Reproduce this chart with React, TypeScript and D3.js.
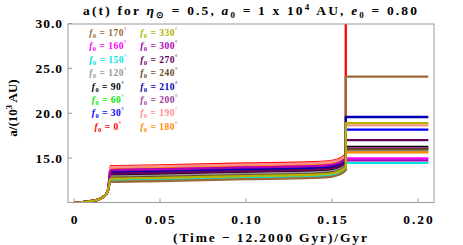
import * as d3 from "d3";
import React from "react";

// orbital angle f0 (deg) for each run, in drawing order
const f0Values = [0, 30, 60, 90, 120, 150, 160, 170, 180, 190, 200, 210, 240, 270, 300, 330];
const colors = [
  "#ff0000", "#0000ff", "#00ee00", "#000000", "#999999", "#00e5e5", "#ff00ff", "#9c6a38",
  "#ff8c00", "#ff9090", "#9a3aa0", "#0000b0", "#6a4a22", "#66005a", "#b000b0", "#b4b400",
];

// shared early evolution (all runs overlap here)
const earlyTimes = [0, 0.004, 0.008, 0.012, 0.015, 0.017, 0.019, 0.0200];
const earlyA = [10.05, 10.08, 10.15, 10.28, 10.45, 10.68, 11.05, 11.6];

// plateau before the big jump
const plateauTimes = [0.0212, 0.05, 0.10, 0.14, 0.150, 0.154, 0.156, 0.1578];
const plateauA = [
  [14.10, 14.20, 14.40, 14.55, 14.70, 14.90, 15.10, 15.35],
  [13.55, 13.65, 13.85, 14.00, 14.15, 14.35, 14.55, 14.80],
  [12.85, 12.95, 13.15, 13.30, 13.45, 13.65, 13.85, 14.10],
  [13.10, 13.20, 13.40, 13.55, 13.70, 13.90, 14.10, 14.35],
  [12.95, 13.05, 13.25, 13.40, 13.55, 13.75, 13.95, 14.20],
  [12.50, 12.60, 12.80, 12.95, 13.10, 13.30, 13.50, 13.75],
  [13.78, 13.88, 14.08, 14.23, 14.38, 14.58, 14.78, 15.03],
  [12.35, 12.45, 12.65, 12.80, 12.95, 13.15, 13.35, 13.60],
  [13.90, 14.00, 14.20, 14.35, 14.50, 14.70, 14.90, 15.15],
  [14.00, 14.10, 14.30, 14.45, 14.60, 14.80, 15.00, 15.25],
  [13.35, 13.45, 13.65, 13.80, 13.95, 14.15, 14.35, 14.60],
  [13.45, 13.55, 13.75, 13.90, 14.05, 14.25, 14.45, 14.70],
  [12.80, 12.90, 13.10, 13.25, 13.40, 13.60, 13.80, 14.05],
  [13.25, 13.35, 13.55, 13.70, 13.85, 14.05, 14.25, 14.50],
  [13.66, 13.76, 13.96, 14.11, 14.26, 14.46, 14.66, 14.91],
  [12.70, 12.80, 13.00, 13.15, 13.30, 13.50, 13.70, 13.95],
];

// after the jump
const jumpTime = 0.158;
const endTime = 0.206;
const finalA = [40, 18.17, 15.70, 16.24, 15.83, 14.46, 14.98, 24.09, 15.65, 18.65, 16.10, 19.58, 16.00, 17.00, 14.76, 18.90];

const xTicks = [0, 0.05, 0.1, 0.15, 0.2];
const xTickLabels = ["0", "0.05", "0.10", "0.15", "0.20"];
const yTicks = [15, 20, 25, 30];
const yTickLabels = ["15.0", "20.0", "25.0", "30.0"];

const W = 463;
const H = 245;
const frame = { left: 68, right: 434, top: 24, bottom: 202.5 };

const x = d3.scaleLinear().domain([0, 0.2]).range([74, 418]);
const y = d3.scaleLinear().domain([10, 30]).range([203, 23.5]);

const serif = "'Liberation Serif', 'Times New Roman', serif";

const line = d3
  .line<[number, number]>()
  .x((d) => x(d[0]))
  .y((d) => y(d[1]))
  .curve(d3.curveMonotoneX);

const straight = d3
  .line<[number, number]>()
  .x((d) => x(d[0]))
  .y((d) => y(d[1]));

const seriesPath = (i: number) => {
  const pts: [number, number][] = [];
  earlyTimes.forEach((t, k) => pts.push([t, earlyA[k]]));
  plateauTimes.forEach((t, k) => pts.push([t, plateauA[i][k]]));
  const smooth = line(pts) || "";
  const tail = straight([
    [plateauTimes[plateauTimes.length - 1], plateauA[i][plateauA[i].length - 1]],
    [jumpTime, plateauA[i][plateauA[i].length - 1] + 0.1],
    [jumpTime, finalA[i]],
    [endTime, finalA[i]],
  ]) || "";
  return smooth + tail.replace(/^M/, "L");
};

// legend layout: two columns, listed top to bottom
const legendLeft = [170, 160, 150, 120, 90, 60, 30, 0];
const legendRight = [330, 300, 270, 240, 210, 200, 190, 180];

const LegendItem = ({ f, cx, cy }: { f: number; cx: number; cy: number }) => {
  const c = colors[f0Values.indexOf(f)];
  return (
    <text x={cx} y={cy} fill={c} fontFamily={serif} fontSize={9.5} fontWeight="bold" textAnchor="middle" letterSpacing={0.5}>
      <tspan fontStyle="italic">f</tspan>
      <tspan fontSize={6.5} dy={2}>0</tspan>
      <tspan dy={-2}>{` = ${f}`}</tspan>
      <tspan fontSize={6} dy={-4}>°</tspan>
    </text>
  );
};

export default function App() {
  return (
    <svg width={W} height={H} style={{ position: "absolute", left: 0, top: 0, background: "#fff" }}>
      <defs>
        <clipPath id="plot">
          <rect x={frame.left} y={frame.top} width={frame.right - frame.left} height={frame.bottom - frame.top} />
        </clipPath>
      </defs>

      {/* title */}
      <text x={250} y={14.5} fontFamily={serif} fontSize={13.5} fontWeight="bold" textAnchor="middle" textLength={334} lengthAdjust="spacing">
        a(t) for <tspan fontStyle="italic">η</tspan>
        <tspan fontSize={9} dy={3}>⊙</tspan>
        <tspan dy={-3}> = 0.5, </tspan>
        <tspan fontStyle="italic">a</tspan>
        <tspan fontSize={9} dy={3}>0</tspan>
        <tspan dy={-3}> = 1 x 10</tspan>
        <tspan fontSize={9} dy={-5}>4</tspan>
        <tspan dy={5}> AU, </tspan>
        <tspan fontStyle="italic">e</tspan>
        <tspan fontSize={9} dy={3}>0</tspan>
        <tspan dy={-3}> = 0.80</tspan>
      </text>

      {/* data */}
      <g clipPath="url(#plot)">
        {f0Values.map((f, i) => (
          <path key={f} d={seriesPath(i)} fill="none" stroke={colors[i]} strokeWidth={2.3} strokeLinejoin="round" />
        ))}
      </g>

      {/* frame */}
      <rect x={frame.left} y={frame.top} width={frame.right - frame.left} height={frame.bottom - frame.top} fill="none" stroke="#9a9a9a" strokeWidth={1} />

      {/* y axis */}
      {yTicks.map((v, i) => (
        <g key={v}>
          <line x1={frame.left} x2={frame.left + 4} y1={y(v)} y2={y(v)} stroke="#9a9a9a" />
          <text x={frame.left - 5} y={y(v) + 4.5} textAnchor="end" fontFamily={serif} fontSize={13.5} fontWeight="bold" letterSpacing={1}>
            {yTickLabels[i]}
          </text>
        </g>
      ))}

      {/* x axis */}
      {xTicks.map((v, i) => (
        <g key={v}>
          <line x1={x(v)} x2={x(v)} y1={frame.bottom} y2={frame.bottom - 4} stroke="#9a9a9a" />
          <text x={x(v) + 1} y={224} textAnchor="middle" fontFamily={serif} fontSize={13.5} fontWeight="bold" letterSpacing={2}>
            {xTickLabels[i]}
          </text>
        </g>
      ))}

      <text x={270} y={242} textAnchor="middle" fontFamily={serif} fontSize={13.5} fontWeight="bold" textLength={194} lengthAdjust="spacing">
        (Time − 12.2000 Gyr)/Gyr
      </text>

      <text transform="translate(17,108) rotate(-90)" textAnchor="middle" fontFamily={serif} fontSize={13} fontWeight="bold">
        a/(10<tspan fontSize={8.5} dy={-5}>3</tspan>
        <tspan dy={5}> AU)</tspan>
      </text>

      {/* legend */}
      {legendLeft.map((f, i) => (
        <LegendItem key={"l" + f} f={f} cx={108} cy={36 + i * 13.4} />
      ))}
      {legendRight.map((f, i) => (
        <LegendItem key={"r" + f} f={f} cx={159} cy={36 + i * 13.4} />
      ))}
    </svg>
  );
}
